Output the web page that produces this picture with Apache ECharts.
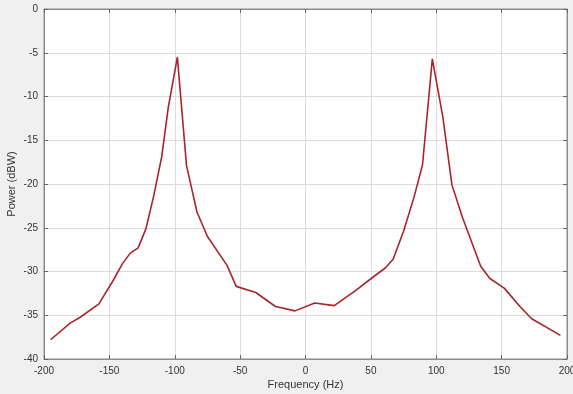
<!DOCTYPE html>
<html><head><meta charset="utf-8">
<script src="https://cdn.jsdelivr.net/npm/echarts@6/dist/echarts.min.js"></script>
<style>html,body{margin:0;padding:0;background:#f0f0f0;}#c{width:573px;height:394px;}</style>
</head><body><div id="c"></div>
<script>
const freqHz = [-195,-180,-172,-158,-147,-140,-134,-128,-122,-116,-110,-105,-98,-91,-83,-75,-60,-53,-38,-23,-8,7,22,39,52,61,67,75,83,89.5,97,105,112,120,134,141,152,164,173,195];
const powerDbw = [-37.8,-35.9,-35.2,-33.7,-31.0,-29.1,-27.9,-27.3,-25.1,-21.3,-16.9,-11.3,-5.5,-17.9,-23.2,-26.0,-29.3,-31.7,-32.4,-34.0,-34.5,-33.6,-33.9,-32.1,-30.6,-29.6,-28.6,-25.4,-21.5,-17.8,-5.7,-12.3,-20.1,-23.8,-29.4,-30.8,-31.9,-34.0,-35.4,-37.3];
const xTicks = [-200,-150,-100,-50,0,50,100,150,200];
const yTicks = [0,-5,-10,-15,-20,-25,-30,-35,-40];

const chart = echarts.init(document.getElementById('c'));
const lbl = {color:'#333', fontSize:10, fontFamily:'Liberation Sans, Arial, sans-serif'};
const frameLine = {show:true, onZero:false, lineStyle:{color:'#8c8c8c'}};
const tick = {show:true, inside:true, length:4, lineStyle:{color:'#666'}};
chart.setOption({
  backgroundColor:'#f0f0f0',
  animation:false,
  grid:{left:44, right:6, top:9, bottom:35, show:true, backgroundColor:'#fff', borderColor:'#8c8c8c', borderWidth:1,
    containLabel:false, outerBoundsMode:'none'},
  xAxis:[{type:'value', min:-200, max:200, interval:50, name:'Frequency (Hz)', nameLocation:'middle', nameGap:20, nameMoveOverlap:false,
    nameTextStyle:{color:'#333', fontSize:11, fontFamily:'Liberation Sans, Arial, sans-serif'},
    axisLine:frameLine, axisTick:tick,
    axisLabel:{...lbl, margin:7, formatter:v=>xTicks.includes(v)?String(v):''},
    splitLine:{show:true, lineStyle:{color:'#dcdcdc'}}},
    {type:'value', min:-200, max:200, interval:50, position:'top', axisLine:frameLine,
    axisTick:tick, axisLabel:{show:false}, splitLine:{show:false}}],
  yAxis:[{type:'value', min:-40, max:0, interval:5, name:'Power (dBW)', nameLocation:'middle', nameGap:27, nameMoveOverlap:false,
    nameTextStyle:{color:'#333', fontSize:11, fontFamily:'Liberation Sans, Arial, sans-serif'},
    axisLine:frameLine, axisTick:tick,
    axisLabel:{...lbl, margin:6, formatter:v=>yTicks.includes(v)?String(v):''},
    splitLine:{show:true, lineStyle:{color:'#dcdcdc'}}},
    {type:'value', min:-40, max:0, interval:5, position:'right', axisLine:frameLine,
    axisTick:tick, axisLabel:{show:false}, splitLine:{show:false}}],
  series:[{type:'line', data:freqHz.map((f,i)=>[f,powerDbw[i]]), showSymbol:false, symbol:'none',
    lineStyle:{color:'#a8262a', width:1.6}}]
});
</script></body></html>
